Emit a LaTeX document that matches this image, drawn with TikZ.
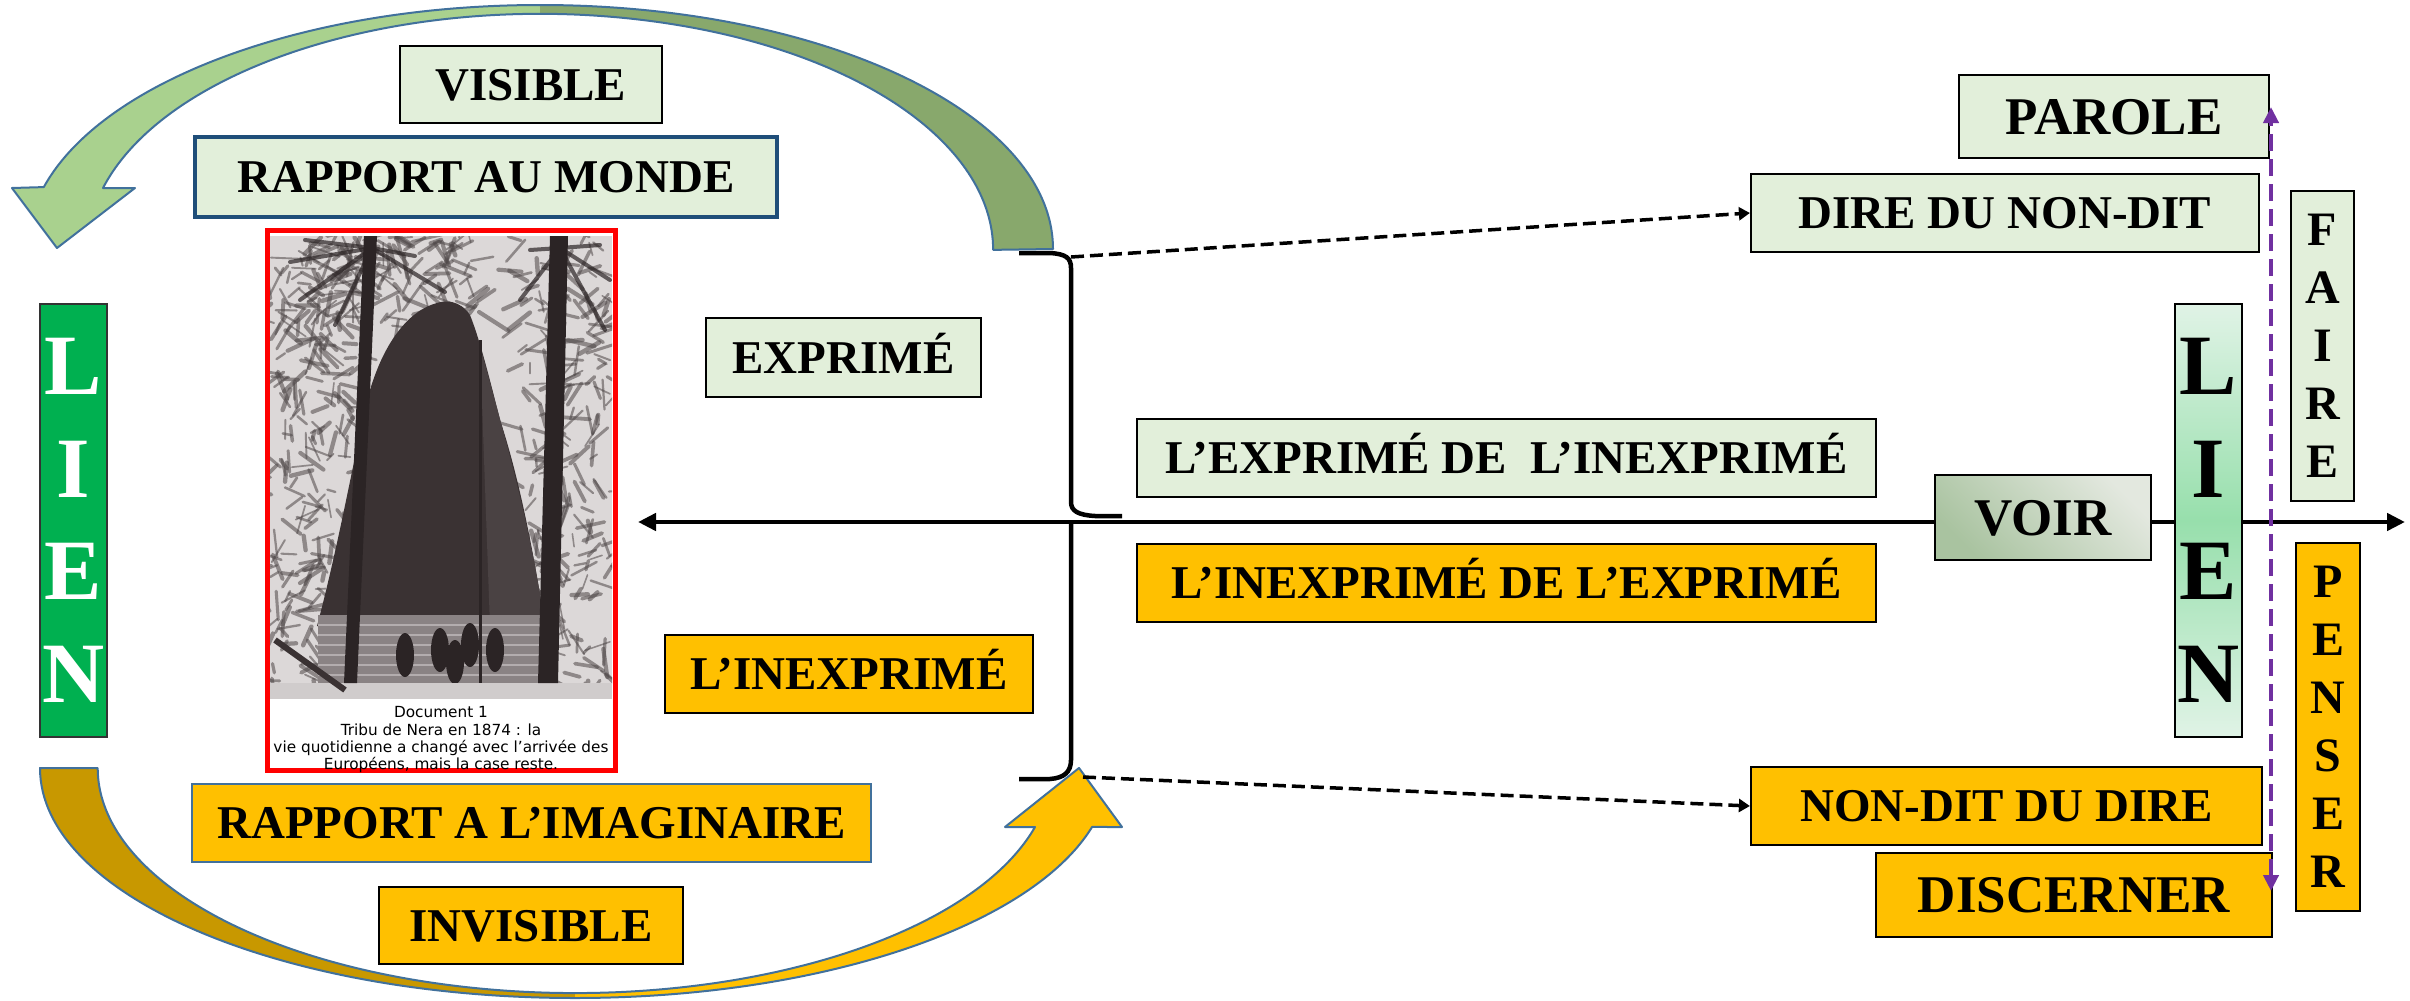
\documentclass[tikz,border=0pt]{standalone}
\usepackage{fontspec}
\setmainfont{Liberation Serif}
\newfontfamily\capfont{DejaVu Sans}
\usetikzlibrary{arrows.meta}
\definecolor{lgreen}{HTML}{E2EFDA}
\definecolor{gold}{HTML}{FFC000}
\definecolor{darkgold}{HTML}{C89800}
\definecolor{arrowlight}{HTML}{A9D18E}
\definecolor{arrowdark}{HTML}{88A86C}
\definecolor{outl}{HTML}{41719C}
\definecolor{navy}{HTML}{1F4E79}
\definecolor{liengreen}{HTML}{00B050}
\definecolor{lienlight}{HTML}{E0F3E6}
\definecolor{lienmid}{HTML}{97DFAC}
\definecolor{voirlight}{HTML}{E3E8DF}
\definecolor{voirdark}{HTML}{A9C3A0}
\definecolor{purp}{HTML}{7030A0}
\definecolor{photobg}{HTML}{DCD8D8}
\definecolor{foliage}{HTML}{4E4748}
\definecolor{hutcol}{HTML}{3A3233}
\definecolor{trunk}{HTML}{2B2425}
\definecolor{hutlight}{HTML}{4A4243}
\definecolor{wallcol}{HTML}{8A8384}
\definecolor{stripe}{HTML}{B3ADAE}
\definecolor{ground}{HTML}{D0CCCC}
\begin{document}
\begin{tikzpicture}[x=1pt,y=-1pt,
  box/.style={draw=black, line width=2.2pt, inner sep=0pt,
    font=\fontsize{47}{56}\selectfont\bfseries, text height=31pt, text depth=0pt},
  gbox/.style={box, fill=lgreen},
  ybox/.style={box, fill=gold},
  bigtext/.style={font=\fontsize{53}{60}\selectfont\bfseries, text height=35pt},
  vbox/.style={draw=black, line width=2.2pt, inner sep=0pt, align=center,
    font=\fontsize{48}{58}\selectfont\bfseries},
  lienbox/.style={draw=black, line width=2pt, inner sep=0pt, align=center,
    font=\fontsize{86}{102.5}\selectfont\bfseries},
  captext/.style={font=\capfont\fontsize{15.3}{17.5}\selectfont, anchor=base, inner sep=0pt},
  dashedarrow/.style={line width=3.5pt, dash pattern=on 13pt off 6pt,
    -{Triangle[length=11pt,width=13pt]}},
  frond/.style={foliage, line cap=round, opacity=.55},
]
\useasboundingbox (0,0) rectangle (2410,1001);

% ---------- brace ----------
\draw[line width=4.5pt] (1019,253) -- (1050,253) .. controls (1066,254) and (1071,258) .. (1071,268)
  -- (1071,502) .. controls (1071,511) and (1078,515) .. (1095,516) -- (1122,516);
\draw[line width=4.5pt] (1071,522) -- (1071,760) .. controls (1071,772) and (1064,778) .. (1050,779) -- (1019,779);
\coordinate (bracetop) at (1071,257);
\coordinate (bracebot) at (1083,777);

% ---------- curved arrows ----------
\def\toparrow{(1053,249) arc[start angle=0, end angle=-165.3, x radius=513, y radius=244]
  -- (12,188) -- (57,248) -- (135,188) -- (103,188)
  arc[start angle=-164.8, end angle=0, x radius=453, y radius=236] -- cycle}
\begin{scope}\clip (0,0) rectangle (540,262); \fill[arrowlight] \toparrow; \end{scope}
\begin{scope}\clip (540,0) rectangle (1100,262); \fill[arrowdark] \toparrow; \end{scope}
\draw[outl, line width=2pt, line join=round] \toparrow;

\def\botarrow{(40,768) arc[start angle=180, end angle=14.86, x radius=535, y radius=230]
  -- (1122,827) -- (1079,768) -- (1005,827) -- (1035,827)
  arc[start angle=15.2, end angle=180, x radius=477, y radius=225] -- cycle}
\begin{scope}\clip (0,700) rectangle (575,1001); \fill[darkgold] \botarrow; \end{scope}
\begin{scope}\clip (575,700) rectangle (1150,1001); \fill[gold] \botarrow; \end{scope}
\draw[outl, line width=2pt, line join=round] \botarrow;

% ---------- photo ----------
\begin{scope}
\clip (270,236) rectangle (612,699);
\fill[photobg] (270,236) rectangle (612,699);
\pgfmathsetseed{7}
% left foliage
\foreach \i in {1,...,260} {
  \pgfmathsetmacro\px{270+90*rnd}
  \pgfmathsetmacro\py{236+450*rnd}
  \pgfmathsetmacro\pa{360*rnd}
  \pgfmathsetmacro\pl{8+22*rnd}
  \pgfmathsetmacro\pw{1.5+3*rnd}
  \draw[frond, line width=\pw pt] (\px,\py) -- ++(\pa:\pl);
}
% right foliage
\foreach \i in {1,...,240} {
  \pgfmathsetmacro\px{520+92*rnd}
  \pgfmathsetmacro\py{236+450*rnd}
  \pgfmathsetmacro\pa{360*rnd}
  \pgfmathsetmacro\pl{8+22*rnd}
  \pgfmathsetmacro\pw{1.5+3*rnd}
  \draw[frond, line width=\pw pt] (\px,\py) -- ++(\pa:\pl);
}
% crowns
\foreach \i in {1,...,120} {
  \pgfmathsetmacro\px{330+150*rnd}
  \pgfmathsetmacro\py{236+90*rnd}
  \pgfmathsetmacro\pa{360*rnd}
  \pgfmathsetmacro\pl{10+25*rnd}
  \pgfmathsetmacro\pw{1.5+3*rnd}
  \draw[frond, line width=\pw pt] (\px,\py) -- ++(\pa:\pl);
}
\foreach \ex/\ey in {290/262,305/240,300/300,335/325,415/256,445/292}
  \draw[trunk, line width=4pt, line cap=round, opacity=.7] (372,248) -- (\ex,\ey);
\foreach \ex/\ey in {610/280,605/330,520/300,530/250,600/245}
  \draw[trunk, line width=4pt, line cap=round, opacity=.7] (560,248) -- (\ex,\ey);
\fill[hutcol] (437,303) .. controls (410,310) and (385,340) .. (370,390)
  .. controls (355,450) and (340,540) .. (317,626) -- (545,626)
  .. controls (535,560) and (520,480) .. (500,420)
  .. controls (490,380) and (480,340) .. (470,315)
  .. controls (460,300) and (445,300) .. (437,303) -- cycle;
\fill[hutlight] (480,346) .. controls (500,420) and (530,520) .. (545,626) -- (490,626) -- (480,346) -- cycle;
\fill[wallcol] (318,615) rectangle (548,683);
\foreach \yy in {625,635,...,675} \draw[stripe, line width=2pt] (318,\yy) -- (548,\yy);
\foreach \px/\py in {405/655,440/650,470/645,495/650,455/662}
  \fill[trunk] (\px,\py) ellipse [x radius=9, y radius=22];
\fill[ground] (270,683) rectangle (612,699);
\draw[hutcol, line width=6pt] (275,640) -- (345,690);
\draw[trunk, line width=3pt] (480,340) -- (480,683);
\fill[trunk] (364,236) -- (377,236) -- (357,683) -- (344,683) -- cycle;
\fill[trunk] (550,236) -- (568,236) -- (558,683) -- (538,683) -- cycle;
\end{scope}
\fill[white] (270,699) rectangle (612,770);
\node[draw=red, line width=5pt, minimum width=348pt, minimum height=540pt, inner sep=0pt] (photo) at (441.5,500.5) {};
\node[captext] (cap1) at (441,717) {Document 1};
\node[captext] (cap2) at (441,735) {Tribu de Nera en 1874 : la};
\node[captext] (cap3) at (441,752) {vie quotidienne a changé avec l’arrivée des};
\node[captext] (cap4) at (441,769) {Européens, mais la case reste.};

% ---------- horizontal axis ----------
\coordinate (hl) at (638,522);
\coordinate (hr) at (2405,522);
\draw[line width=4.5pt, {Triangle[length=18pt,width=17pt]}-{Triangle[length=18pt,width=17pt]}] (hl) -- (hr);

% ---------- left boxes ----------
\node[gbox, minimum width=262pt, minimum height=77pt] (visible) at (531,84.5) {VISIBLE};
\node[gbox, draw=navy, line width=4.5pt, minimum width=582pt, minimum height=80pt] (monde) at (486,177) {RAPPORT AU MONDE};
\node[gbox, minimum width=275pt, minimum height=79pt] (exprime) at (843.5,357.5) {EXPRIMÉ};
\node[lienbox, fill=liengreen, draw=black!80, text=white, minimum width=67pt, minimum height=433pt] (lienleft) at (73.5,520.5) {L\\I\\E\\N};
\node[ybox, minimum width=368pt, minimum height=78pt] (inexprime) at (849,674) {L’INEXPRIMÉ};
\node[ybox, draw=outl, line width=2.5pt, minimum width=679pt, minimum height=78pt] (imaginaire) at (531.5,823) {RAPPORT A L’IMAGINAIRE};
\node[ybox, minimum width=304pt, minimum height=77pt] (invisible) at (531,925.5) {INVISIBLE};

% ---------- right boxes ----------
\node[gbox, bigtext, minimum width=310pt, minimum height=83pt] (parole) at (2114,116.5) {PAROLE};
\node[gbox, minimum width=508pt, minimum height=78pt] (dire) at (2005,213) {DIRE DU NON-DIT};
\node[vbox, fill=lgreen, minimum width=63pt, minimum height=310pt] (faire) at (2322.5,346) {F\\A\\I\\R\\E};
\node[lienbox, top color=lienlight, bottom color=lienlight, middle color=lienmid, minimum width=67pt, minimum height=433pt] (lienright) at (2208.5,520.5) {L\\I\\E\\N};
\node[gbox, minimum width=739pt, minimum height=78pt] (exprinex) at (1506.5,458) {L’EXPRIMÉ DE\ \ L’INEXPRIMÉ};
\node[box, bigtext, top color=voirlight, bottom color=voirdark, shading angle=-45, minimum width=216pt, minimum height=85pt] (voir) at (2043,517.5) {VOIR};
\node[ybox, minimum width=739pt, minimum height=78pt] (inexexp) at (1506.5,583) {L’INEXPRIMÉ DE L’EXPRIMÉ};
\node[ybox, minimum width=511pt, minimum height=78pt] (nondit) at (2006.5,806) {NON-DIT DU DIRE};
\node[ybox, bigtext, minimum width=396pt, minimum height=84pt] (discerner) at (2074,895) {DISCERNER};
\node[vbox, fill=gold, minimum width=64pt, minimum height=368pt] (penser) at (2328,727) {P\\E\\N\\S\\E\\R};

% ---------- dashed connectors ----------
\draw[dashedarrow] (bracetop) -- (dire.west);
\draw[dashedarrow] (bracebot) -- (nondit.west);

% ---------- purple double arrow ----------
\coordinate (ptop) at (2271,107);
\coordinate (pbot) at (2271,891);
\draw[purp, line width=4pt, dash pattern=on 17pt off 8pt,
  {Triangle[length=16pt,width=15pt]}-{Triangle[length=16pt,width=15pt]}] (pbot) -- (ptop);
\end{tikzpicture}
\end{document}
